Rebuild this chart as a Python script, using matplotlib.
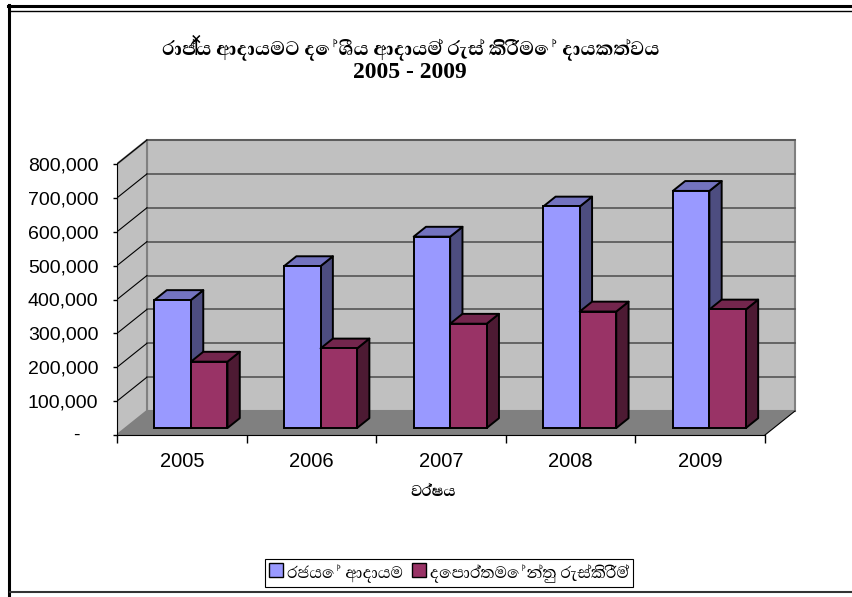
import matplotlib
matplotlib.use("Agg")
import matplotlib.pyplot as plt
from matplotlib import font_manager
from matplotlib.ft2font import FT2Font
from matplotlib.patches import Polygon, Patch
from matplotlib.lines import Line2D

# Data
years = ['2005', '2006', '2007', '2008', '2009']
govt_revenue = [378000, 478000, 565000, 654000, 700000]
dept_collection = [196000, 235000, 308000, 344000, 350000]
series_names = ['රජයේ ආදායම', 'දෙපාර්තමේන්තු රැස්කිරීම්']
title_text = 'රාජ්‍ය ආදායමට දේශීය ආදායම් රැස් කිරීමේ දායකත්වය'
title_years = '2005 - 2009'
xlabel_text = 'වර්ෂය'
yticks = list(range(0, 800001, 100000))
ytick_labels = [''] + ['{:,}'.format(v) for v in yticks[1:]]


# look for any installed font that has sinhala glyphs
def sinhala_font(bold=False):
    found = []
    for f in font_manager.fontManager.ttflist:
        try:
            if 0x0DBB not in FT2Font(f.fname).get_charmap():
                continue
        except Exception:
            continue
        w = f.weight
        if isinstance(w, str):
            w = font_manager.weight_dict.get(w, 400)
        found.append((abs(w - (700 if bold else 400)), f.name))
    if not found:
        return None
    found.sort()
    return found[0][1]


sin = sinhala_font()
sin_b = sinhala_font(True) or sin
fam = ([sin] if sin else []) + ['DejaVu Sans']
fam_b = ([sin_b] if sin_b else []) + ['DejaVu Sans']

# colours
front_cols = ['#9999FF', '#993366']
top_cols = ['#7373BF', '#73264D']
side_cols = ['#4D4D80', '#4D1A33']

fig = plt.figure(figsize=(8.52, 5.97), dpi=100)
C = 129.6            # px per category
PXV = 33.875 / 1e5   # px per value unit
ax = fig.add_axes([117 / 852, 162 / 597, 683 / 852, 297 / 597])
ax.set_xlim(0, 683 / C)
ax.set_ylim(0, 297 / PXV)
DX = 30 / C          # depth offset of the back wall
DY = 24 / PXV
n = len(years)
top = yticks[-1]

# walls and floor
ax.add_patch(Polygon([(DX, DY), (n + DX, DY), (n + DX, top + DY), (DX, top + DY)],
                     closed=True, fc='#C0C0C0', ec='#808080', lw=1.5, zorder=0))
ax.add_patch(Polygon([(0, 0), (0, top), (DX, top + DY), (DX, DY)],
                     closed=True, fc='#C0C0C0', ec='#808080', lw=1.5, zorder=0))
ax.add_patch(Polygon([(0, 0), (n, 0), (n + DX, DY), (DX, DY)],
                     closed=True, fc='#808080', ec='none', zorder=0.5))
ax.plot([n, n + DX], [0, DY], color='black', lw=0.8, zorder=0.6)
for v in yticks[1:]:
    ax.plot([DX, n + DX], [v + DY, v + DY], color='#555555', lw=1.2, zorder=0.4)
    ax.plot([0, DX], [v, v + DY], color='black', lw=0.8, zorder=0.4)

# 3d-looking columns
d0, d1 = 0.29, 0.70
w = 0.2816
a = 0.222
ddx = (d1 - d0) * DX
ddy = (d1 - d0) * DY
b0 = d0 * DY
for k, vals in enumerate([govt_revenue, dept_collection]):
    z = 3 + k
    lefts = [i + a + k * w + d0 * DX for i in range(n)]
    for x, v in zip(lefts, vals):
        ax.add_patch(Polygon([(x + w, b0), (x + w, v + b0), (x + w + ddx, v + b0 + ddy),
                              (x + w + ddx, b0 + ddy)], closed=True,
                             fc=side_cols[k], ec='black', lw=1.4, joinstyle='round', zorder=z))
        ax.add_patch(Polygon([(x, v + b0), (x + w, v + b0), (x + w + ddx, v + b0 + ddy),
                              (x + ddx, v + b0 + ddy)], closed=True,
                             fc=top_cols[k], ec='black', lw=1.4, joinstyle='round', zorder=z))
    ax.bar(lefts, vals, width=w, bottom=b0, align='edge', color=front_cols[k],
           edgecolor='black', lw=1.4, zorder=z + 0.1)

# axes
for s in ['top', 'right']:
    ax.spines[s].set_visible(False)
ax.spines['left'].set_bounds(0, top)
ax.spines['bottom'].set_bounds(0, n)
ax.spines['left'].set_zorder(1)
ax.spines['bottom'].set_zorder(1)
ax.set_yticks(yticks, ytick_labels)
ax.tick_params(axis='y', length=3, width=1, pad=10.4, labelsize=14)
ax.set_xticks(range(n + 1), [''] * (n + 1))
ax.set_xticks([i + 0.5 for i in range(n)], years, minor=True)
ax.tick_params(axis='x', which='major', length=6, width=1)
ax.tick_params(axis='x', which='minor', length=0, pad=12, labelsize=14.5)
for lab in ax.get_yticklabels() + ax.get_xticklabels(minor=True):
    lab.set_family('Liberation Sans')
ax.annotate('-', xy=(0, 0), xycoords=ax.get_yaxis_transform(), xytext=(-29.5, 0),
            textcoords='offset points', ha='center', va='center', fontsize=14,
            family='Liberation Sans')

# titles
fig.text(411 / 852, 1 - 47 / 597, title_text, ha='center', va='center',
         fontsize=18, fontweight='bold', family=fam_b)
fig.text(410 / 852, 1 - 73 / 597, title_years, ha='center', va='center',
         fontsize=17, fontweight='bold', family='Liberation Serif')
fig.text(433 / 852, 1 - 492 / 597, xlabel_text, ha='center', va='center',
         fontsize=14.5, fontweight='bold', family=fam_b)

# legend
handles = [Patch(fc=c, ec='black', lw=1) for c in front_cols]
leg = fig.legend(handles, series_names, loc='center', bbox_to_anchor=(449 / 852, 1 - 573 / 597),
                 ncol=2, fancybox=False, edgecolor='black', framealpha=1,
                 handlelength=0.65, handleheight=0.65, handletextpad=0.2,
                 columnspacing=0.45, borderpad=0.2, borderaxespad=0,
                 prop={'family': fam, 'size': 15})
leg.get_frame().set_linewidth(0.8)

# chart border
fig.add_artist(Line2D([9 / 852, 9 / 852], [0, 1 - 5 / 597], color='black', lw=2.2))
fig.add_artist(Line2D([8 / 852, 1], [1 - 6 / 597] * 2, color='black', lw=2.2))
fig.add_artist(Line2D([10 / 852, 1], [1 - 11 / 597] * 2, color='black', lw=1))
fig.add_artist(Line2D([10 / 852, 1], [1 - 592 / 597] * 2, color='#333333', lw=1.5))

fig.savefig('out.png', dpi=100)
